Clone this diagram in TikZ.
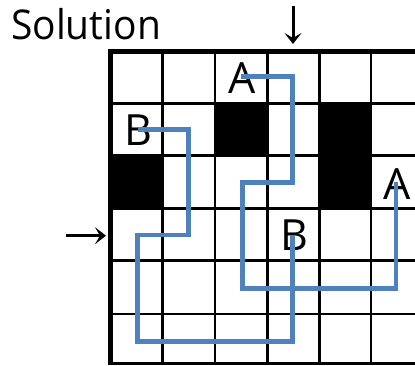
\documentclass[tikz,border=0pt]{standalone}
\usepackage{fontspec}
\usepackage{graphicx}
\setmainfont{Open Sans}
\usetikzlibrary{arrows.meta}
\definecolor{pathblue}{RGB}{79,129,189}
\begin{document}
\begin{tikzpicture}[x=1pt,y=-1pt,
  gridline/.style={line width=2.6pt,black},
  border/.style={line width=5pt,black},
  blocked/.style={fill=black},
  route/.style={line width=4.6pt,pathblue,line join=miter},
  letter/.style={inner sep=0pt,font=\fontsize{43}{43}\selectfont},
  pointer/.style={line width=3pt,black,-{Stealth[length=11pt,width=17pt,inset=5pt]}}]
\useasboundingbox (0,0) rectangle (415,365);
\fill[white] (0,0) rectangle (415,365);
\begin{scope}
\clip (0,0) rectangle (415,365);
% blocked cells
\fill[blocked] (215,103.3) rectangle (267.3,155.7);
\fill[blocked] (319.3,103.3) rectangle (371,208.3);
\fill[blocked] (111,155.7) rectangle (162.7,208.3);
% grid
\foreach \gx in {162.7,215,267.3,319.3,371} \draw[gridline] (\gx,51) -- (\gx,363.5);
\foreach \gy in {103.3,155.7,208.3,260.7,314,363.2} \draw[gridline] (111,\gy) -- (416,\gy);
\draw[border] (108.5,51) -- (416,51);
\draw[border] (110.8,48.5) -- (110.8,364.5);
\end{scope}
% title
\node[anchor=base west,inner sep=0pt,font=\fontsize{41}{41}\selectfont] (title) at (11,39.5) {\scalebox{0.95}[1]{Solution}};
% entry arrows
\coordinate (downtop) at (293,6);
\coordinate (downend) at (293,44);
\draw[pointer] (downtop) -- (downend);
\coordinate (rightstart) at (66,235.7);
\coordinate (rightend) at (106,235.7);
\draw[pointer] (rightstart) -- (rightend);
% letters
\node[letter] (A1) at (242.3,78) {A};
\node[letter] (B1) at (138.5,130.3) {B};
\node[letter] (A2) at (397.3,184) {A};
\node[letter] (B2) at (294,235.5) {B};
% routes
\coordinate (a1) at (292.7,76.7);
\coordinate (a2) at (292.7,182.3);
\coordinate (a3) at (242.3,182.3);
\coordinate (a4) at (242.3,288.3);
\coordinate (a5) at (396,288.3);
\draw[route] (241,76.7) -- (a1) -- (a2) -- (a3) -- (a4) -- (a5) -- (396,182.3);
\coordinate (b1) at (188.7,129.3);
\coordinate (b2) at (188.7,235);
\coordinate (b3) at (137.7,235);
\coordinate (b4) at (137.7,341.7);
\coordinate (b5) at (292.7,341.7);
\draw[route] (137.7,129.3) -- (b1) -- (b2) -- (b3) -- (b4) -- (b5) -- (292.7,235);
\end{tikzpicture}
\end{document}
